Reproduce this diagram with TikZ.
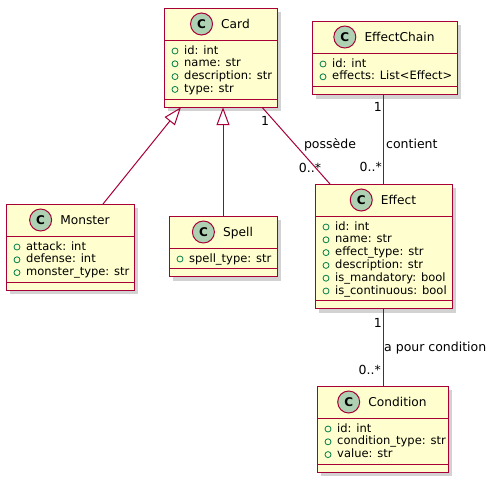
\documentclass[tikz,border=0pt]{standalone}
\usepackage{fontspec}
\setmainfont{DejaVu Sans}
\usepackage{tikz}
\usetikzlibrary{positioning,arrows.meta,shadows}
\definecolor{umlred}{HTML}{A80036}
\definecolor{umlbg}{HTML}{FEFECE}
\definecolor{spotbg}{HTML}{ADD1B2}
\definecolor{visgreen}{HTML}{038048}

\begin{document}
\begin{tikzpicture}[x=1pt, y=-1pt,
  cls/.style={rectangle, draw=umlred, fill=umlbg, line width=1pt, anchor=north west, inner sep=0pt, outer sep=0pt,
    drop shadow={shadow xshift=4pt, shadow yshift=-4pt, opacity=0.25, fill=black!70}},
  cname/.style={inner sep=0pt, text height=10pt, text depth=2pt, font=\fontsize{12.2}{14}\selectfont},
  spot/.style={circle, draw=umlred, fill=spotbg, line width=1pt, minimum size=22pt, inner sep=0pt, font=\fontsize{12}{12}\selectfont\bfseries},
  attr/.style={anchor=west, inner sep=0pt, text height=8pt, text depth=2pt, font=\fontsize{11.5}{13}\selectfont},
  vismark/.style={draw=visgreen, line width=0.8pt},
  compline/.style={draw=umlred, line width=1pt},
  assoc/.style={draw=umlred, line width=1pt},
  inherit/.style={assoc, -{Triangle[open, length=18pt, width=13pt]}},
  lbl/.style={inner sep=0pt, text height=9pt, text depth=2.5pt, font=\fontsize{12.5}{14}\selectfont},
]
  \path[use as bounding box, fill=white] (0,0) rectangle (498,482);

  % Card
  \node[cls, minimum width=113pt, minimum height=99.2pt] (card) at (164,8) {};
  \node[cname] (cardn) at ([xshift=15pt, yshift=-16pt]card.north) {Card};
  \node[spot, left=8pt of cardn] (cardc) {C};
  \draw[compline] ([yshift=-32pt]card.north west) -- ([yshift=-32pt]card.north east);
  \draw[compline] ([yshift=8pt]card.south west) -- ([yshift=8pt]card.south east);
  \foreach \a [count=\i, evaluate=\i as \dy using 43+12.8*(\i-1)] in {id: int, name: str, description: str, type: str} {
    \draw[vismark] ([xshift=11pt, yshift=-\dy pt]card.north west) circle (3pt);
    \node[attr] (card-a\i) at ([xshift=20pt, yshift=-\dy pt]card.north west) {\a};
  }

  % EffectChain
  \node[cls, minimum width=145pt, minimum height=73.6pt] (chain) at (312,21) {};
  \node[cname] (chainn) at ([xshift=15pt, yshift=-16pt]chain.north) {EffectChain};
  \node[spot, left=8pt of chainn] (chainc) {C};
  \draw[compline] ([yshift=-32pt]chain.north west) -- ([yshift=-32pt]chain.north east);
  \draw[compline] ([yshift=8pt]chain.south west) -- ([yshift=8pt]chain.south east);
  \foreach \a [count=\i, evaluate=\i as \dy using 43+12.8*(\i-1)] in {id: int, effects: List<Effect>} {
    \draw[vismark] ([xshift=11pt, yshift=-\dy pt]chain.north west) circle (3pt);
    \node[attr] (chain-a\i) at ([xshift=20pt, yshift=-\dy pt]chain.north west) {\a};
  }

  % Monster
  \node[cls, minimum width=128pt, minimum height=86.4pt] (monster) at (6,204) {};
  \node[cname] (monstern) at ([xshift=15pt, yshift=-16pt]monster.north) {Monster};
  \node[spot, left=8pt of monstern] (monsterc) {C};
  \draw[compline] ([yshift=-32pt]monster.north west) -- ([yshift=-32pt]monster.north east);
  \draw[compline] ([yshift=8pt]monster.south west) -- ([yshift=8pt]monster.south east);
  \foreach \a [count=\i, evaluate=\i as \dy using 43+12.8*(\i-1)] in {attack: int, defense: int, monster\_type: str} {
    \draw[vismark] ([xshift=11pt, yshift=-\dy pt]monster.north west) circle (3pt);
    \node[attr] (monster-a\i) at ([xshift=20pt, yshift=-\dy pt]monster.north west) {\a};
  }

  % Spell
  \node[cls, minimum width=108pt, minimum height=60.8pt] (spell) at (169,216) {};
  \node[cname] (spelln) at ([xshift=15pt, yshift=-16pt]spell.north) {Spell};
  \node[spot, left=8pt of spelln] (spellc) {C};
  \draw[compline] ([yshift=-32pt]spell.north west) -- ([yshift=-32pt]spell.north east);
  \draw[compline] ([yshift=8pt]spell.south west) -- ([yshift=8pt]spell.south east);
  \draw[vismark] ([xshift=11pt, yshift=-43pt]spell.north west) circle (3pt);
  \node[attr] (spell-a1) at ([xshift=20pt, yshift=-43pt]spell.north west) {spell\_type: str};

  % Effect
  \node[cls, minimum width=137pt, minimum height=124.8pt] (effect) at (315,184) {};
  \node[cname] (effectn) at ([xshift=15pt, yshift=-16pt]effect.north) {Effect};
  \node[spot, left=8pt of effectn] (effectc) {C};
  \draw[compline] ([yshift=-32pt]effect.north west) -- ([yshift=-32pt]effect.north east);
  \draw[compline] ([yshift=8pt]effect.south west) -- ([yshift=8pt]effect.south east);
  \foreach \a [count=\i, evaluate=\i as \dy using 43+12.8*(\i-1)] in {id: int, name: str, effect\_type: str, description: str, is\_mandatory: bool, is\_continuous: bool} {
    \draw[vismark] ([xshift=11pt, yshift=-\dy pt]effect.north west) circle (3pt);
    \node[attr] (effect-a\i) at ([xshift=20pt, yshift=-\dy pt]effect.north west) {\a};
  }

  % Condition
  \node[cls, minimum width=131pt, minimum height=86.4pt] (condition) at (317,386) {};
  \node[cname] (conditionn) at ([xshift=15pt, yshift=-16pt]condition.north) {Condition};
  \node[spot, left=8pt of conditionn] (conditionc) {C};
  \draw[compline] ([yshift=-32pt]condition.north west) -- ([yshift=-32pt]condition.north east);
  \draw[compline] ([yshift=8pt]condition.south west) -- ([yshift=8pt]condition.south east);
  \foreach \a [count=\i, evaluate=\i as \dy using 43+12.8*(\i-1)] in {id: int, condition\_type: str, value: str} {
    \draw[vismark] ([xshift=11pt, yshift=-\dy pt]condition.north west) circle (3pt);
    \node[attr] (condition-a\i) at ([xshift=20pt, yshift=-\dy pt]condition.north west) {\a};
  }

  % links
  \draw[inherit] ([xshift=33pt]monster.north) -- ([xshift=-39.5pt]card.south);
  \draw[inherit] (spell.north) -- (spell.north |- card.south);
  \draw[assoc] ([xshift=41.5pt]card.south) -- ([xshift=-53.5pt]effect.north);
  \draw[assoc] (effect.north) -- (effect.north |- chain.south);
  \draw[assoc] (effect.south) -- (effect.south |- condition.north);

  % labels
  \node[lbl] (card-m) at (265,122) {1};
  \node[lbl] (has-l) at (330,145) {possède};
  \node[lbl] (effect-m1) at (310,169) {0..*};
  \node[lbl, anchor=east] (chain-m) at (382,108) {1};
  \node[lbl, anchor=west] (holds-l) at (386,145) {contient};
  \node[lbl, anchor=east] (effect-m2) at (382,168) {0..*};
  \node[lbl, anchor=east] (effect-m3) at (382,324) {1};
  \node[lbl, anchor=west] (cond-l) at (384,348) {a pour condition};
  \node[lbl, anchor=east] (condition-m) at (381,371) {0..*};
\end{tikzpicture}
\end{document}
